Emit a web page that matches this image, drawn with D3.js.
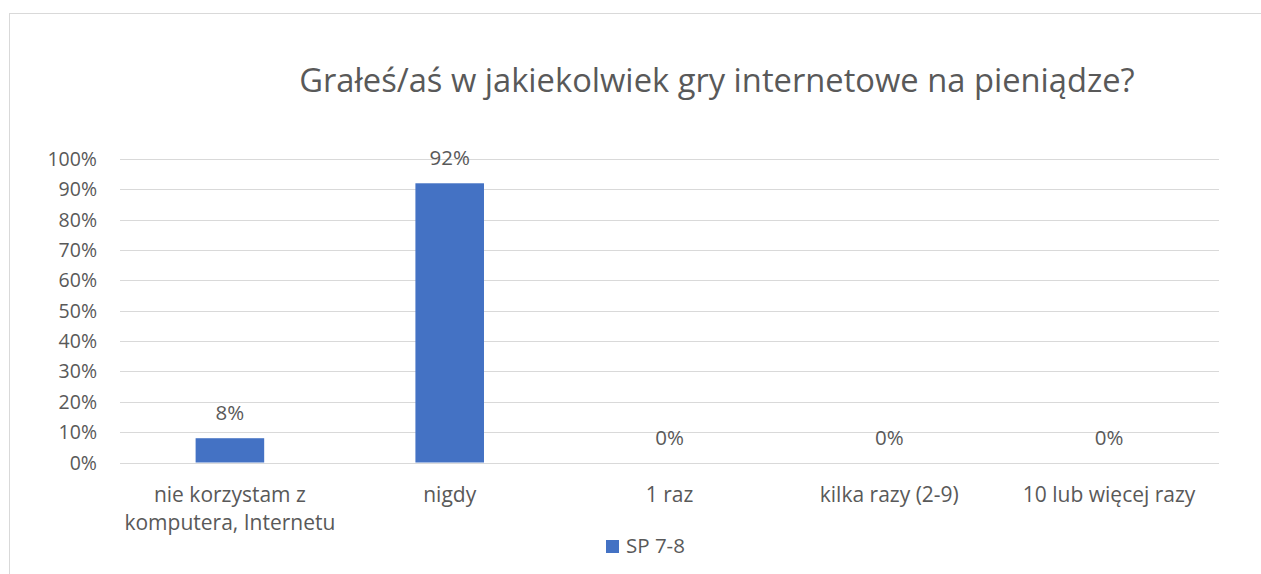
<!DOCTYPE html>
<html><head><meta charset="utf-8">
<script src="https://cdn.jsdelivr.net/npm/d3@7"></script>
<style>body{margin:0;background:#fff}svg{display:block}text{font-family:"Open Sans",sans-serif;fill:#595959}</style>
</head><body>
<script>
const title = "Grałeś/aś w jakiekolwiek gry internetowe na pieniądze?";
const categories = [["nie korzystam z","komputera, Internetu"],["nigdy"],["1 raz"],["kilka razy (2-9)"],["10 lub więcej razy"]];
const seriesName = "SP 7-8";
const values = [0.08, 0.92, 0, 0, 0];
const yTicks = [0,0.1,0.2,0.3,0.4,0.5,0.6,0.7,0.8,0.9,1];

const W=1261,H=574;
const svg=d3.select("body").append("svg").attr("width",W).attr("height",H);
svg.append("rect").attr("x",9.5).attr("y",13.5).attr("width",W+10).attr("height",H+10).attr("fill","none").attr("stroke","#d9d9d9");

const x=d3.scaleBand().domain(d3.range(categories.length)).range([120,1219]);
const y=d3.scaleLinear().domain([0,1]).range([462.5,159]);
const bw=x.bandwidth()*0.312;

svg.append("g").selectAll("line").data(yTicks).join("line")
 .attr("x1",120).attr("x2",1219).attr("y1",d=>Math.round(y(d))+0.5).attr("y2",d=>Math.round(y(d))+0.5)
 .attr("stroke","#d9d9d9").attr("stroke-width",1);

const fmt=d3.format(".0%");
svg.append("g").selectAll("text").data(yTicks).join("text")
 .attr("x",97).attr("y",d=>y(d)+7).attr("text-anchor","end").attr("font-size",19.5).text(fmt);

svg.append("g").selectAll("rect").data(values).join("rect")
 .attr("x",(d,i)=>x(i)+x.bandwidth()/2-bw/2).attr("width",bw)
 .attr("y",d=>y(d)).attr("height",d=>y(0)-y(d)).attr("fill","#4472c4");

svg.append("g").selectAll("text").data(values).join("text")
 .attr("x",(d,i)=>x(i)+x.bandwidth()/2).attr("y",d=>y(d)-18).attr("text-anchor","middle").attr("font-size",20.5).text(fmt);

const cl=svg.append("g").selectAll("text").data(categories).join("text")
 .attr("text-anchor","middle").attr("font-size",21);
cl.selectAll("tspan").data((d,i)=>d.map(s=>({s,i}))).join("tspan")
 .attr("x",d=>x(d.i)+x.bandwidth()/2).attr("y",(d,j)=>502+j*28).text(d=>d.s);

svg.append("text").attr("x",717).attr("y",92).attr("text-anchor","middle").attr("font-size",32.7).text(title);

svg.append("rect").attr("x",606).attr("y",540).attr("width",13).attr("height",13).attr("fill","#4472c4");
svg.append("text").attr("x",626).attr("y",553).attr("font-size",20.5).text(seriesName);
</script>
</body></html>
